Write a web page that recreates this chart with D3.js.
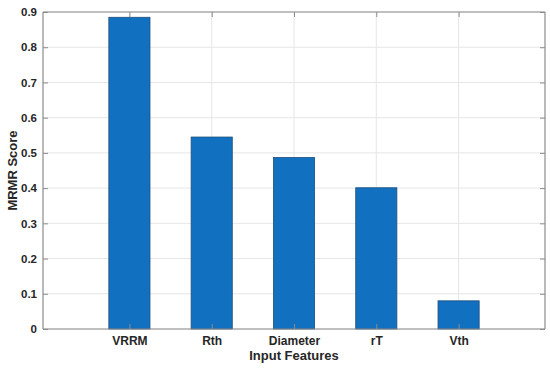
<!DOCTYPE html>
<html>
<head>
<meta charset="utf-8">
<script src="https://cdn.jsdelivr.net/npm/d3@7"></script>
<style>
  body { margin: 0; background: #fff; }
  text { font-family: "Liberation Sans", Arial, sans-serif; font-weight: bold; fill: #262626; }
</style>
</head>
<body>
<script>
var features = ["VRRM", "Rth", "Diameter", "rT", "Vth"];
var scores = [0.885, 0.545, 0.487, 0.401, 0.080];
var yTicks = [0, 0.1, 0.2, 0.3, 0.4, 0.5, 0.6, 0.7, 0.8, 0.9];

var margin = {top: 12, right: 5, bottom: 40, left: 43},
    width = 550 - margin.left - margin.right,
    height = 369 - margin.top - margin.bottom;

var svg = d3.select("body").append("svg")
    .attr("width", 550)
    .attr("height", 369)
    .append("g")
    .attr("transform", "translate(" + margin.left + "," + margin.top + ")");

var x = d3.scaleLinear().domain([-0.05, 6.05]).range([0, width]);
var y = d3.scaleLinear().domain([0, 0.9]).range([height, 0]);
var idx = features.map(function(d, i) { return i + 1; });

// grid
svg.append("g").selectAll("line")
    .data(yTicks).enter().append("line")
    .attr("x1", 0).attr("x2", width)
    .attr("y1", function(d) { return y(d); }).attr("y2", function(d) { return y(d); })
    .attr("stroke", "#e6e6e6");
svg.append("g").selectAll("line")
    .data(idx).enter().append("line")
    .attr("y1", 0).attr("y2", height)
    .attr("x1", function(d) { return x(d); }).attr("x2", function(d) { return x(d); })
    .attr("stroke", "#e6e6e6");

// bars
var bw = x(0.5) - x(0);
svg.append("g").selectAll("rect")
    .data(scores).enter().append("rect")
    .attr("x", function(d, i) { return x(i + 1) - bw / 2; })
    .attr("width", bw)
    .attr("y", function(d) { return y(d); })
    .attr("height", function(d) { return height - y(d); })
    .attr("fill", "#1170c0")
    .attr("stroke", "#1d4f7c")
    .attr("stroke-width", 0.8);

// axes (MATLAB-style box with inward ticks)
var tickLen = 5;
var axisColor = "#8c8c8c";
var axLeft = svg.append("g").call(d3.axisLeft(y).tickValues(yTicks).tickSize(-tickLen).tickPadding(6)
    .tickFormat(function(d) { return d === 0 ? "0" : d3.format(".1f")(d); }));
var axRight = svg.append("g").attr("transform", "translate(" + width + ",0)")
    .call(d3.axisRight(y).tickValues(yTicks).tickSize(-tickLen).tickFormat(""));
var axBottom = svg.append("g").attr("transform", "translate(0," + height + ")")
    .call(d3.axisBottom(x).tickValues(idx).tickSize(-tickLen).tickPadding(7)
    .tickFormat(function(d) { return features[d - 1]; }));
var axTop = svg.append("g")
    .call(d3.axisTop(x).tickValues(idx).tickSize(-tickLen).tickFormat(""));

[axLeft, axRight, axBottom, axTop].forEach(function(a) {
    a.select(".domain").attr("stroke", axisColor).attr("stroke-width", 1.2);
    a.selectAll(".tick line").attr("stroke", axisColor);
    a.selectAll(".tick text").attr("fill", "#262626");
});
axLeft.selectAll(".tick text").style("font-size", "11.5px");
axBottom.selectAll(".tick text").style("font-size", "12px");
axLeft.select(".domain").attr("d", "M0,0V" + height);
axRight.select(".domain").attr("d", "M0,0V" + height);
axBottom.select(".domain").attr("d", "M0,0H" + width);
axTop.select(".domain").attr("d", "M0,0H" + width);

// labels
svg.append("text")
    .attr("x", width / 2)
    .attr("y", height + 31)
    .attr("text-anchor", "middle")
    .style("font-size", "13px")
    .text("Input Features");

svg.append("text")
    .attr("transform", "translate(-26," + (height / 2) + ") rotate(-90)")
    .attr("text-anchor", "middle")
    .style("font-size", "13px")
    .text("MRMR Score");
</script>
</body>
</html>
